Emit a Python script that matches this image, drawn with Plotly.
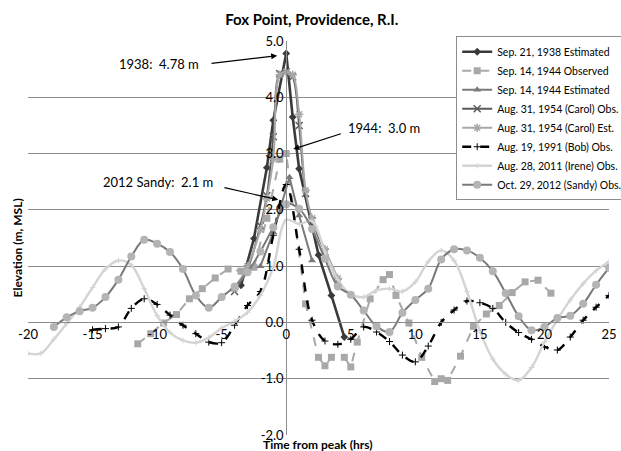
import plotly.graph_objects as go

# ---- storm tide records at Fox Point (time from peak in hours, elevation in m MSL) ----
t_1938 = [-3.5, -2.5, -1.5, -1.0, 0.0, 0.5, 1.0, 2.5, 3.5, 4.5]
v_1938 = [0.66, 1.49, 2.75, 3.59, 4.78, 3.65, 2.73, 1.20, 0.48, -0.26]

t_1944_obs = [-11.5, -10.5, -9.5, -8.5, -7.5, -6.5, -5.5, -4.5, -3.5, -2.5, -1.5, -0.5, 0.0,
              1.5, 2.5, 3.0, 3.5, 4.5, 5.0, 5.5, 6.5, 7.5, 8.0, 8.5, 9.5, 10.5, 11.5, 12.0,
              12.5, 13.5, 14.5, 15.5, 16.5, 17.5, 18.5, 19.5, 20.5]
v_1944_obs = [-0.38, -0.20, -0.01, 0.14, 0.42, 0.60, 0.79, 0.95, 0.91, 0.98, 1.85, 2.90, 3.0,
              0.33, -0.62, -0.77, -0.62, -0.62, -0.79, -0.35, 0.42, 0.76, 0.85, 0.48, -0.01,
              -0.62, -1.05, -1.00, -1.03, -0.60, -0.07, 0.15, 0.30, 0.53, 0.72, 0.75, 0.52]

t_1944_est = [-2.0, -1.0, 0.25, 1.0, 2.0]
v_1944_est = [1.00, 1.60, 2.58, 1.90, 1.10]

t_carol_obs = [-4.0, -3.0, -2.0, -1.5, -1.0, -0.5, 0.0, 0.5, 1.0, 1.5, 2.0, 3.0, 4.0]
v_carol_obs = [0.55, 0.95, 1.72, 2.25, 3.30, 4.42, 4.45, 4.36, 3.50, 2.29, 1.81, 1.25, 0.72]

t_carol_est = [-4.0, -3.0, -2.0, -1.5, -1.0, -0.5, 0.0, 0.5, 1.0, 1.5, 2.0, 3.0, 4.0]
v_carol_est = [0.60, 1.00, 1.65, 2.20, 2.90, 4.40, 4.45, 4.40, 3.70, 2.35, 1.85, 1.30, 0.78]

t_bob = list(range(-15, 26))
v_bob = [-0.13, -0.11, -0.08, 0.25, 0.42, 0.32, 0.13, -0.05, -0.20, -0.35, -0.36, -0.05, 0.30,
         0.55, 1.55, 2.45, 1.30, 0.04, -0.33, -0.39, -0.30, -0.08, -0.17, -0.34, -0.58, -0.70,
         -0.42, 0.00, 0.22, 0.38, 0.35, 0.25, 0.00, -0.18, -0.30, -0.43, -0.49, -0.26, 0.04,
         0.27, 0.48]

t_irene = list(range(-20, 26))
v_irene = [-0.55, -0.55, -0.30, -0.02, 0.27, 0.62, 0.95, 1.10, 1.02, 0.60, 0.12, -0.18, -0.32,
           -0.36, -0.27, -0.10, 0.02, 0.18, 0.48, 0.98, 1.82, 1.75, 1.80, 1.25, 0.76, 0.50,
           0.45, 0.57, 0.60, 0.55, 0.72, 1.08, 1.28, 1.10, 0.55, -0.15, -0.65, -0.92, -1.03,
           -0.80, -0.35, 0.05, 0.40, 0.69, 0.92, 1.08]

t_sandy = list(range(-18, 26))
v_sandy = [-0.08, 0.09, 0.20, 0.26, 0.45, 0.76, 1.17, 1.47, 1.40, 1.25, 0.95, 0.48, 0.26, 0.45,
           0.64, 0.89, 1.26, 1.69, 2.1, 2.02, 1.66, 1.13, 0.64, 0.49, 0.21, -0.07, -0.17, 0.17,
           0.40, 0.60, 1.12, 1.30, 1.28, 1.15, 0.91, 0.52, 0.11, -0.14, -0.08, 0.08, 0.12, 0.33,
           0.67, 0.97]

x_ticks = [-20, -15, -10, -5, 0, 5, 10, 15, 20, 25]
y_ticks = [-2, -1, 0, 1, 2, 3, 4, 5]

# call-out labels: text, text anchor (hrs, m), arrow tail (hrs, m), arrow head (hrs, m)
callouts = [
    ("1938:  4.78 m", (-6.6, 4.60), (-5.9, 4.60), (-0.7, 4.74)),
    ("1944:  3.0 m", (4.6, 3.45), (4.35, 3.36), (0.55, 3.08)),
    ("2012 Sandy:  2.1 m", (-5.5, 2.50), (-4.9, 2.40), (-0.62, 2.18)),
]

FONT = "Lato"

fig = go.Figure()

fig.add_trace(go.Scatter(
    x=t_1938, y=v_1938, name="Sep. 21, 1938 Estimated", mode="lines+markers",
    line=dict(color="#3a3a3a", width=2.6),
    marker=dict(symbol="diamond", size=6, color="#3a3a3a")))

fig.add_trace(go.Scatter(
    x=t_1944_obs, y=v_1944_obs, name="Sep. 14, 1944 Observed", mode="lines+markers",
    line=dict(color="#a8a8a8", width=2, dash="dash"),
    marker=dict(symbol="square", size=7, color="#a8a8a8")))

fig.add_trace(go.Scatter(
    x=t_1944_est, y=v_1944_est, name="Sep. 14, 1944 Estimated", mode="lines+markers",
    line=dict(color="#7a7a7a", width=2),
    marker=dict(symbol="triangle-up", size=7, color="#7a7a7a")))

fig.add_trace(go.Scatter(
    x=t_carol_obs, y=v_carol_obs, name="Aug. 31, 1954 (Carol) Obs.", mode="lines+markers",
    line=dict(color="#5a5a5a", width=2, shape="spline"),
    marker=dict(symbol="x-thin-open", size=7, line=dict(color="#5a5a5a", width=1.5))))

fig.add_trace(go.Scatter(
    x=t_carol_est, y=v_carol_est, name="Aug. 31, 1954 (Carol) Est.", mode="lines+markers",
    line=dict(color="#a8a8a8", width=2, shape="spline"),
    marker=dict(symbol="asterisk-open", size=7, line=dict(color="#a8a8a8", width=1.5))))

fig.add_trace(go.Scatter(
    x=t_bob, y=v_bob, name="Aug. 19, 1991 (Bob) Obs.", mode="lines+markers",
    line=dict(color="#000000", width=2.4, dash="dash", shape="spline"),
    marker=dict(symbol="cross-thin-open", size=5, line=dict(color="#000000", width=1))))

fig.add_trace(go.Scatter(
    x=t_irene, y=v_irene, name="Aug. 28, 2011 (Irene) Obs.", mode="lines+markers",
    line=dict(color="#d4d4d4", width=2.4, shape="spline"),
    marker=dict(symbol="cross-thin-open", size=4, line=dict(color="#c4c4c4", width=1))))

fig.add_trace(go.Scatter(
    x=t_sandy, y=v_sandy, name="Oct. 29, 2012 (Sandy) Obs.", mode="lines+markers",
    line=dict(color="#7a7a7a", width=2, shape="spline"),
    marker=dict(symbol="circle", size=8, color="#b4b4b4")))

annotations = []
for text, (tx, ty), (ax, ay), (hx, hy) in callouts:
    annotations.append(dict(
        x=hx, y=hy, xref="x", yref="y", ax=ax, ay=ay, axref="x", ayref="y",
        text="", showarrow=True, arrowhead=2, arrowsize=1, arrowwidth=1.2,
        arrowcolor="#000000"))
    anchor = "right" if tx < ax else "left"
    annotations.append(dict(
        x=tx, y=ty, xref="x", yref="y", text=text, showarrow=False,
        xanchor=anchor, yanchor="middle", font=dict(size=13, family=FONT)))

# axis titles
annotations.append(dict(
    text="<b>Elevation (m, MSL)</b>", x=-0.018, y=0.475, xref="paper", yref="paper",
    textangle=-90, showarrow=False, xanchor="center", yanchor="middle",
    font=dict(size=12, family=FONT)))
annotations.append(dict(
    text="<b>Time from peak (hrs)</b>", x=0.4996, y=-0.025, xref="paper", yref="paper",
    showarrow=False, xanchor="center", yanchor="middle", font=dict(size=12, family=FONT)))

fig.update_layout(
    width=621, height=451,
    margin=dict(l=27.5, r=12, t=41, b=16, autoexpand=False),
    paper_bgcolor="white", plot_bgcolor="white",
    font=dict(family=FONT, size=12, color="#000000"),
    title=dict(text="<b>Fox Point, Providence, R.I.</b>", x=0.502, xanchor="center",
               y=1 - 20 / 451, yanchor="middle", font=dict(size=15, family=FONT)),
    showlegend=True,
    legend=dict(x=0.737, y=1.012, xanchor="left", yanchor="top",
                bgcolor="white", bordercolor="#8c8c8c", borderwidth=1,
                font=dict(size=10.5, family=FONT), tracegroupgap=0, itemwidth=30),
    xaxis=dict(range=[-20, 25], tickvals=x_ticks, ticktext=[str(v) for v in x_ticks],
               showgrid=False, zeroline=False, showline=True, linecolor="#8c8c8c",
               anchor="free", position=2 / 7, ticks="", tickfont=dict(size=13),
               automargin=False),
    yaxis=dict(range=[-2, 5], tickvals=y_ticks, ticktext=[f"{v:.1f}" for v in y_ticks],
               showgrid=True, gridcolor="#8c8c8c", gridwidth=1, zeroline=False,
               showline=True, linecolor="#8c8c8c", anchor="free", position=20 / 45,
               ticks="", tickfont=dict(size=13), automargin=False),
    annotations=annotations,
)

fig.write_html("out.html")
